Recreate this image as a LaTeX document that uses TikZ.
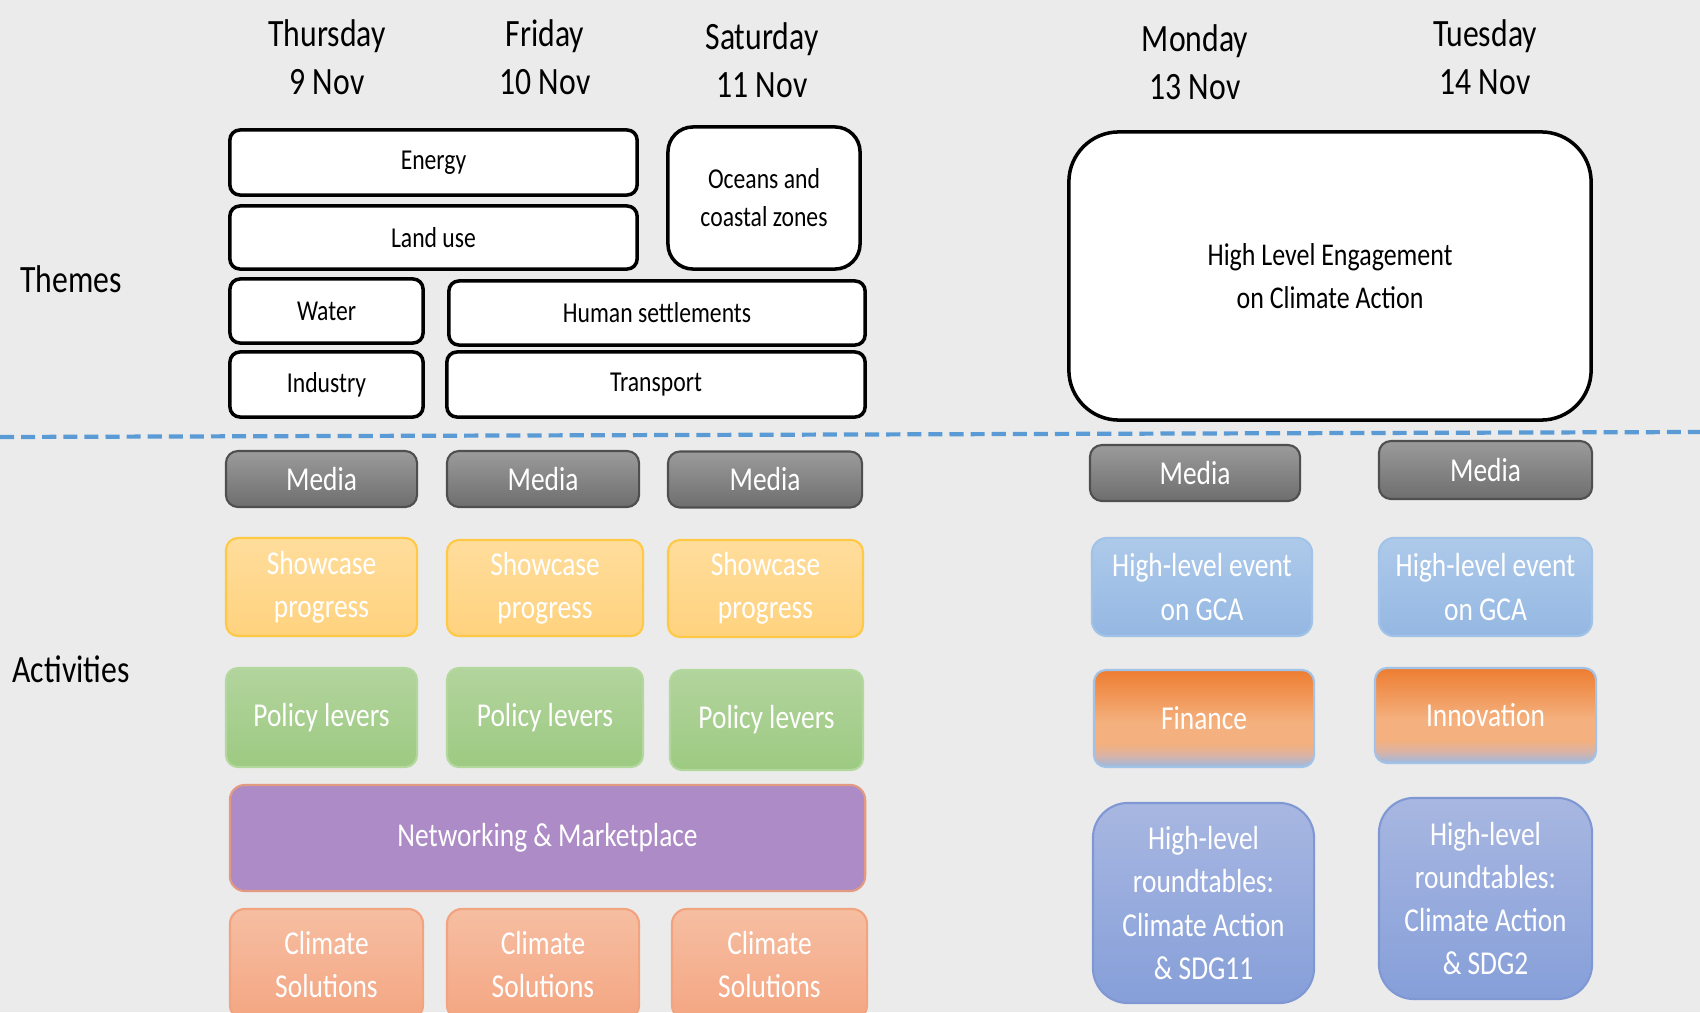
\documentclass[tikz,border=0pt]{standalone}
\usepackage{fontspec}
\setmainfont{Carlito}[FakeStretch=0.82]

\definecolor{bggray}{HTML}{EBEBEB}
\definecolor{sepblue}{HTML}{5B9BD5}
\definecolor{mediatop}{HTML}{9B9B9B}
\definecolor{mediabot}{HTML}{6E6E6E}
\definecolor{mediaedge}{HTML}{4F4F4F}
\definecolor{showtop}{HTML}{FFDD9C}
\definecolor{showbot}{HTML}{FFD27E}
\definecolor{showedge}{HTML}{FFC845}
\definecolor{policytop}{HTML}{B2D49D}
\definecolor{policybot}{HTML}{9DCA82}
\definecolor{policyedge}{HTML}{B3D89E}
\definecolor{netfill}{HTML}{AD8BC6}
\definecolor{netedge}{HTML}{E39A82}
\definecolor{climtop}{HTML}{F6BEA2}
\definecolor{climbot}{HTML}{F4A682}
\definecolor{climedge}{HTML}{F2A37F}
\definecolor{eventtop}{HTML}{AECAEA}
\definecolor{eventbot}{HTML}{94B7E2}
\definecolor{eventedge}{HTML}{A2C3E8}
\definecolor{finorange}{HTML}{ED7D31}
\definecolor{finlight}{HTML}{F4B07E}
\definecolor{finpale}{HTML}{D9B3A6}
\definecolor{finblue}{HTML}{9CB9E1}
\definecolor{roundtop}{HTML}{A8B7E1}
\definecolor{roundbot}{HTML}{869FD9}
\definecolor{roundedge}{HTML}{7F98D4}

% orange into blue, for Finance and Innovation
\pgfdeclareverticalshading{orangeblue}{100bp}{color(0bp)=(finblue); color(25bp)=(finblue); color(31bp)=(finpale); color(37bp)=(finlight); color(48bp)=(finlight); color(75bp)=(finorange); color(100bp)=(finorange)}

\begin{document}
\begin{tikzpicture}[x=0.01cm, y=-0.01cm,
    day/.style={font=\fontsize{11}{13.7}\selectfont, align=center},
    rowlabel/.style={font=\fontsize{11}{13}\selectfont},
    theme/.style={draw=black, line width=1pt, fill=white, rounded corners=0.1cm,
      inner sep=0pt, align=center, font=\fontsize{8.2}{10.8}\selectfont},
    act/.style={rounded corners=0.12cm, inner sep=0pt, line width=0.6pt,
      text=white, align=center, font=\fontsize{9.5}{12.3}\selectfont},
    media/.style={act, draw=mediaedge, top color=mediatop, bottom color=mediabot},
    showcase/.style={act, draw=showedge, top color=showtop, bottom color=showbot},
    policy/.style={act, draw=policyedge, top color=policytop, bottom color=policybot},
    market/.style={act, draw=netedge, fill=netfill, rounded corners=0.15cm},
    solution/.style={act, draw=climedge, top color=climtop, bottom color=climbot, rounded corners=0.15cm},
    event/.style={act, draw=eventedge, top color=eventtop, bottom color=eventbot, rounded corners=0.15cm},
    topic/.style={act, draw=eventedge, shading=orangeblue},
    roundtable/.style={act, draw=roundedge, top color=roundtop, bottom color=roundbot, rounded corners=0.35cm},
    separator/.style={sepblue, line width=1.2pt, dash pattern=on 4pt off 2pt}]

  \clip (0,0) rectangle (1700,1012);
  \fill[bggray] (0,0) rectangle (1700,1012);

  % days
  \node[day] (thu) at (327,57) {Thursday\\9 Nov};
  \node[day] (fri) at (545,57) {Friday\\10 Nov};
  \node[day] (sat) at (762,60) {Saturday\\11 Nov};
  \node[day] (mon) at (1195,62) {Monday\\13 Nov};
  \node[day] (tue) at (1485,57) {Tuesday\\14 Nov};

  \node[rowlabel] (themes) at (71,279) {Themes};
  \node[rowlabel] (activities) at (71,669) {Activities};

  % themes
  \node[theme, minimum width=4.07cm, minimum height=0.65cm] (energy) at (433.5,162.5) {Energy};
  \node[theme, minimum width=4.07cm, minimum height=0.63cm] (landuse) at (433.5,237.5) {Land use};
  \node[theme, minimum width=1.92cm, minimum height=1.42cm, rounded corners=0.25cm] (oceans) at (764,198) {Oceans and\\coastal zones};
  \node[theme, minimum width=1.93cm, minimum height=0.64cm] (water) at (326.5,311) {Water};
  \node[theme, minimum width=4.16cm, minimum height=0.64cm] (settlements) at (657,313) {Human settlements};
  \node[theme, minimum width=1.93cm, minimum height=0.65cm] (industry) at (326.5,384.5) {Industry};
  \node[theme, minimum width=4.18cm, minimum height=0.65cm] (transport) at (656,384.5) {Transport};
  \node[theme, minimum width=5.22cm, minimum height=2.88cm, rounded corners=0.5cm,
    font=\fontsize{9}{12.3}\selectfont] (engagement) at (1330,276) {High Level Engagement\\on Climate Action};

  \coordinate (sepL) at (0,437);
  \coordinate (sepR) at (1700,432);
  \draw[separator] (sepL) -- (sepR);

  % activities
  \node[media, minimum width=1.91cm, minimum height=0.56cm] (media1) at (321.5,479) {Media};
  \node[media, minimum width=1.92cm, minimum height=0.56cm] (media2) at (543,479) {Media};
  \node[media, minimum width=1.94cm, minimum height=0.56cm] (media3) at (765,479.5) {Media};
  \node[media, minimum width=2.10cm, minimum height=0.56cm] (media4) at (1195,473) {Media};
  \node[media, minimum width=2.13cm, minimum height=0.58cm] (media5) at (1485.5,470) {Media};

  \node[showcase, minimum width=1.91cm, minimum height=0.98cm] (show1) at (321.5,587) {Showcase\\progress};
  \node[showcase, minimum width=1.96cm, minimum height=0.96cm] (show2) at (545,588) {Showcase\\progress};
  \node[showcase, minimum width=1.95cm, minimum height=0.97cm] (show3) at (765.5,588.5) {Showcase\\progress};
  \node[event, minimum width=2.20cm, minimum height=0.98cm] (event1) at (1202,587) {High-level event\\on GCA};
  \node[event, minimum width=2.13cm, minimum height=0.98cm] (event2) at (1485.5,587) {High-level event\\on GCA};

  \node[policy, minimum width=1.91cm, minimum height=0.99cm] (policy1) at (321.5,717.5) {Policy levers};
  \node[policy, minimum width=1.96cm, minimum height=0.99cm] (policy2) at (545,717.5) {Policy levers};
  \node[policy, minimum width=1.93cm, minimum height=1.00cm] (policy3) at (766.5,720) {Policy levers};
  \node[topic, minimum width=2.20cm, minimum height=0.97cm] (finance) at (1204,718.5) {Finance};
  \node[topic, minimum width=2.21cm, minimum height=0.95cm] (innovation) at (1485.5,715.5) {Innovation};

  \node[market, minimum width=6.35cm, minimum height=1.06cm] (networking) at (547.5,838) {Networking \& Marketplace};

  \node[solution, minimum width=1.93cm, minimum height=1.11cm] (climate1) at (326.5,964.5) {Climate\\Solutions};
  \node[solution, minimum width=1.92cm, minimum height=1.11cm] (climate2) at (543,964.5) {Climate\\Solutions};
  \node[solution, minimum width=1.95cm, minimum height=1.11cm] (climate3) at (769.5,964.5) {Climate\\Solutions};

  \node[roundtable, minimum width=2.21cm, minimum height=2.00cm] (round1) at (1203.5,903) {High-level\\roundtables:\\Climate Action\\\& SDG11};
  \node[roundtable, minimum width=2.13cm, minimum height=2.01cm] (round2) at (1485.5,898.5) {High-level\\roundtables:\\Climate Action\\\& SDG2};
\end{tikzpicture}
\end{document}
